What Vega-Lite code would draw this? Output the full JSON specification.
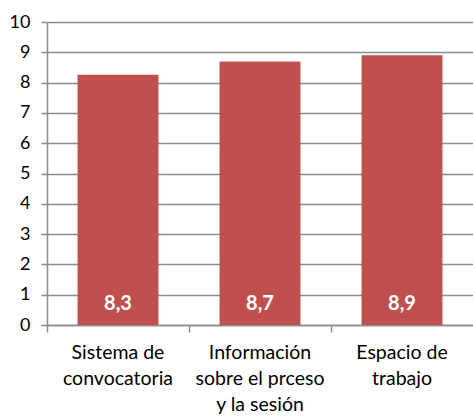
{
  "$schema": "https://vega.github.io/schema/vega-lite/v6.json",
  "autosize": "none",
  "width": 426,
  "height": 303,
  "padding": {"left": 47, "top": 22, "right": 0, "bottom": 93},
  "background": "white",
  "data": {
    "values": [
      {"cat": "Sistema de convocatoria", "value": 8.26, "label": "8,3"},
      {"cat": "Información sobre el prceso y la sesión", "value": 8.7, "label": "8,7"},
      {"cat": "Espacio de trabajo", "value": 8.9, "label": "8,9"}
    ]
  },
  "config": {
    "view": {"stroke": null},
    "font": "Lato"
  },
  "encoding": {
    "x": {
      "field": "cat",
      "type": "nominal",
      "sort": null,
      "scale": {"paddingInner": 0, "paddingOuter": 0},
      "axis": {
        "title": null,
        "labelAngle": 0,
        "bandPosition": 0,
        "labelExpr": "datum.label == 'Sistema de convocatoria' ? ['Sistema de', 'convocatoria'] : datum.label == 'Espacio de trabajo' ? ['Espacio de', 'trabajo'] : ['Información', 'sobre el prceso', 'y la sesión']",
        "labelFontSize": 19.5,
        "labelLineHeight": 26,
        "labelColor": "#000000",
        "labelFont": "Lato",
        "labelPadding": 11,
        "labelBaseline": "top",
        "labelOverlap": false,
        "labelBound": false,
        "tickColor": "#8c8c8c",
        "tickSize": 7,
        "tickWidth": 1.5,
        "domainColor": "#8c8c8c",
        "domainWidth": 1.5,
        "grid": false
      }
    },
    "y": {
      "field": "value",
      "type": "quantitative",
      "scale": {"domain": [0, 10], "nice": false},
      "axis": {
        "title": null,
        "values": [0, 1, 2, 3, 4, 5, 6, 7, 8, 9, 10],
        "labelOverlap": false,
        "labelFontSize": 18,
        "labelColor": "#000000",
        "labelFont": "Lato",
        "labelPadding": 11,
        "tickColor": "#8c8c8c",
        "tickSize": 6,
        "tickWidth": 1.5,
        "domainColor": "#8c8c8c",
        "domainWidth": 1.5,
        "grid": true,
        "gridColor": "#8c8c8c",
        "gridWidth": 1.5
      }
    }
  },
  "layer": [
    {
      "mark": {"type": "bar", "color": "#C0504D", "width": {"band": 0.57}}
    },
    {
      "mark": {"type": "text", "color": "white", "fontWeight": "bold", "fontSize": 20, "font": "Lato", "baseline": "alphabetic", "dy": -15},
      "encoding": {
        "y": {"datum": 0, "type": "quantitative"},
        "text": {"field": "label"}
      }
    }
  ]
}
